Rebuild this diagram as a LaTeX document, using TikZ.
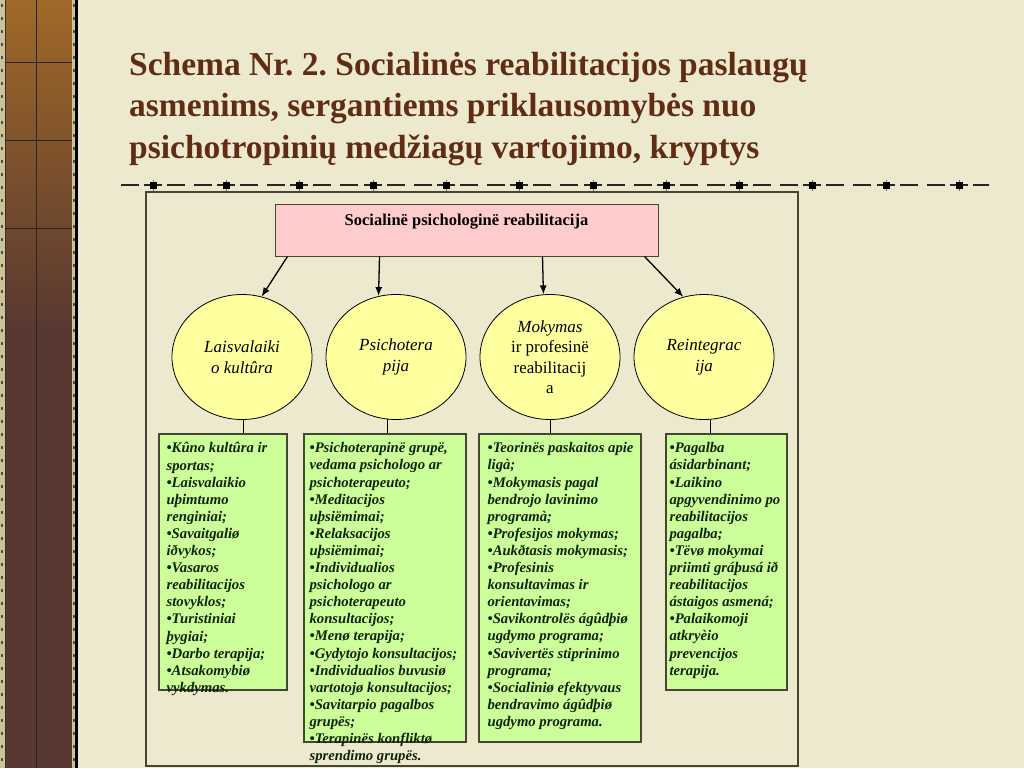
\documentclass[tikz,border=0pt]{standalone}
\usepackage{fontspec}
\setmainfont{Liberation Serif}
\usetikzlibrary{arrows.meta,positioning,shapes.geometric}
\definecolor{paper}{RGB}{237,233,207}
\definecolor{titlebrown}{RGB}{96,45,20}
\definecolor{framegray}{RGB}{70,70,55}
\definecolor{pinkfill}{RGB}{255,204,206}
\definecolor{yellowfill}{RGB}{255,255,160}
\definecolor{greenfill}{RGB}{204,255,153}
\definecolor{listink}{RGB}{15,35,10}
\definecolor{woodlight}{RGB}{160,105,40}
\definecolor{wooddark}{RGB}{88,56,48}
\definecolor{woodedge}{RGB}{205,195,150}

\begin{document}
\frenchspacing
\begin{tikzpicture}[
  x=1pt, y=-1pt,
  >=Latex,
  title/.style={anchor=north west, align=left, inner sep=0pt, text=titlebrown,
    font=\fontsize{33.5}{41.5}\selectfont\bfseries},
  head/.style={draw=framegray, fill=pinkfill, line width=1pt, align=center,
    minimum width=383pt, inner sep=3pt, text height=18pt, text depth=28pt,
    font=\fontsize{16.5}{19}\selectfont\bfseries},
  topic/.style={draw, ellipse, fill=yellowfill, line width=.8pt,
    minimum width=140pt, minimum height=125pt, inner sep=0pt, align=center,
    font=\fontsize{17}{20.5}\selectfont\itshape},
  listbox/.style={draw=framegray, fill=greenfill, line width=1.2pt, inner sep=0pt},
  listtext/.style={anchor=north west, align=left, inner sep=0pt, text=listink,
    font=\fontsize{14.7}{17.1}\selectfont\bfseries\itshape},
  line/.style={-{Latex[length=9pt,width=7pt]}, line width=1.3pt},
  link/.style={line width=.8pt}
]
\useasboundingbox (0,0) rectangle (1024,768);
\fill[paper] (0,0) rectangle (1024,768);

% wooden strip on the left
\shade[top color=woodlight, bottom color=wooddark] (5,0) rectangle (72,330);
\fill[wooddark] (5,330) rectangle (72,768);
\fill[woodedge] (0,0) rectangle (5,768);
\fill[woodedge] (72,0) rectangle (75,768);
\fill[black] (75,0) rectangle (77.5,768);
\draw[black!80, line width=.8pt] (5,0) -- (5,768);
\foreach \y in {4,17,...,768} {
  \fill[black!70] (1,\y) rectangle (3,\y+3);
  \fill[black!70] (72.5,\y) rectangle (74.5,\y+3);
}
\draw[black!85, line width=.8pt] (36,0) -- (36,768);
\foreach \y in {62,140,228} {
  \draw[black!85, line width=.8pt] (5,\y) -- (72,\y);
}

% title
\node[title] (title) at (129,52)
  {Schema Nr. 2. Socialinės reabilitacijos paslaugų\\
   asmenims, sergantiems priklausomybės nuo\\
   psichotropinių medžiagų vartojimo, kryptys};

% dashed rule with squares
\begin{scope}
\clip (120,175) rectangle (989,195);
\foreach \c in {80,153,226,299,373,446,519,593,666,739,812,886,959} {
  \draw[black!85, line width=1.2pt] (\c-9,185) -- (\c+9,185);
  \draw[black!85, line width=1.2pt] (\c+14,185) -- (\c+32,185);
  \draw[black!85, line width=1.2pt] (\c+41,185) -- (\c+59,185);
  \draw[black!60, line width=.6pt] (\c,180) -- (\c,191);
  \fill[black] (\c-3.5,181.5) rectangle (\c+3.5,188.5);
}
\end{scope}

% outer frame
\draw[framegray, line width=1.2pt] (146,192) rectangle (798,766);

% top box and the four topics
\node[head] (head) at (466.5,230) {Socialinë psichologinë reabilitacija};

\node[topic] (c1) at (242,357) {Laisvalaiki\\o kultûra};
\node[topic] (c2) at (396,357) {Psichotera\\pija};
\node[topic] (c3) at (550,357)
  {Mokymas\\\upshape ir profesinë\\\upshape reabilitacij\\\upshape a};
\node[topic] (c4) at (704,357) {Reintegrac\\ija};

\draw[line] ([xshift=13pt]head.south west) -- (c1.72);
\draw[line] ([xshift=105pt]head.south west) -- (c2.106);
\draw[line] ([xshift=268pt]head.south west) -- (c3.96);
\draw[line] ([xshift=370pt]head.south west) -- (c4.109);

% lists
\node[listbox, minimum width=128pt, minimum height=256pt] (b1) at (223,562) {};
\node[listbox, minimum width=162pt, minimum height=308pt] (b2) at (385,588) {};
\node[listbox, minimum width=162pt, minimum height=308pt] (b3) at (560,588) {};
\node[listbox, minimum width=121pt, minimum height=256pt] (b4) at (726.5,562) {};

\draw[link] (c1.271) -- (c1.271 |- b1.north);
\draw[link] (c2.262) -- (c2.262 |- b2.north);
\draw[link] (c3.south) -- (c3.south |- b3.north);
\draw[link] (c4.276) -- (c4.276 |- b4.north);

\node[listtext] (t1) at ([xshift=8pt,yshift=-9pt]b1.north west)
  {•Kûno kultûra ir\\sportas;\\•Laisvalaikio\\uþimtumo\\renginiai;\\
   •Savaitgaliø\\iðvykos;\\•Vasaros\\reabilitacijos\\stovyklos;\\
   •Turistiniai\\þygiai;\\•Darbo terapija;\\•Atsakomybiø\\vykdymas.};
\node[listtext] (t2) at ([xshift=6pt,yshift=-9pt]b2.north west)
  {•Psichoterapinë grupë,\\vedama psichologo ar\\psichoterapeuto;\\
   •Meditacijos\\uþsiëmimai;\\•Relaksacijos\\uþsiëmimai;\\
   •Individualios\\psichologo ar\\psichoterapeuto\\konsultacijos;\\
   •Menø terapija;\\•Gydytojo konsultacijos;\\
   •Individualios buvusiø\\vartotojø konsultacijos;\\
   •Savitarpio pagalbos\\grupës;\\•Terapinës konfliktø\\sprendimo grupës.};
\node[listtext] (t3) at ([xshift=9pt,yshift=-9pt]b3.north west)
  {•Teorinës paskaitos apie\\ligà;\\•Mokymasis pagal\\bendrojo lavinimo\\
   programà;\\•Profesijos mokymas;\\•Aukðtasis mokymasis;\\•Profesinis\\
   konsultavimas ir\\orientavimas;\\•Savikontrolës ágûdþiø\\ugdymo programa;\\
   •Savivertës stiprinimo\\programa;\\•Socialiniø efektyvaus\\
   bendravimo ágûdþiø\\ugdymo programa.};
\node[listtext] (t4) at ([xshift=4pt,yshift=-9pt]b4.north west)
  {•Pagalba\\ásidarbinant;\\•Laikino\\apgyvendinimo po\\reabilitacijos\\
   pagalba;\\•Tëvø mokymai\\priimti gráþusá ið\\reabilitacijos\\
   ástaigos asmená;\\•Palaikomoji\\atkryèio\\prevencijos\\terapija.};
\end{tikzpicture}
\end{document}
